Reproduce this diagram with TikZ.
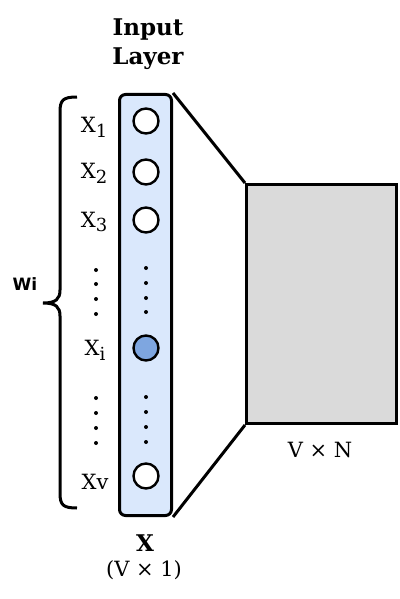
\documentclass[tikz,border=0pt]{standalone}
\usepackage{fontspec}
\setmainfont{DejaVu Serif}
\setsansfont{DejaVu Sans}
\usetikzlibrary{positioning}

\definecolor{colfill}{HTML}{DAE8FC}
\definecolor{hotfill}{HTML}{7EA6E0}
\definecolor{matfill}{HTML}{DADADA}

\tikzset{
  unit/.style={circle, draw, line width=1.2pt, fill=white, minimum size=12.5pt, inner sep=0pt},
  xlab/.style={font=\fontsize{10.5}{12}\selectfont, inner sep=0pt}
}
\newcommand{\xsub}[1]{X\raisebox{-0.45ex}{\fontsize{9}{10}\selectfont #1}}

\begin{document}
\begin{tikzpicture}[x=0.5pt,y=-0.5pt]

		\useasboundingbox (0,0) rectangle (400,599);

		% input column and weight matrix
		\node [draw, line width=1.5pt, fill=colfill, rounded corners=3pt, inner sep=0pt,
		       minimum width=26pt, minimum height=210.5pt] (col) at (145.5,305) {};
		\node [draw, line width=1.5pt, fill=matfill, inner sep=0pt,
		       minimum width=75pt, minimum height=119.5pt] (mat) at (321.5,304) {};

		\draw [line width=1.5pt] (col.north east) -- (mat.north west);
		\draw [line width=1.5pt] (col.south east) -- (mat.south west);

		\node [unit] (x1) at (146,121) {};
		\node [unit] (x2) at (146,172) {};
		\node [unit] (x3) at (146,220) {};
		\node [unit, fill=hotfill] (xi) at (146,348) {};
		\node [unit] (xv) at (146,476) {};

		\foreach \y in {268,283,298,312,397,412,427,442}
			\fill (146,\y) circle (1pt);
		\foreach \y in {270,284,299,314,398,413,428,443}
			\fill (96,\y) circle (1pt);

		\node [xlab] (l1) at (94,127) {\xsub{1}};
		\node [xlab] (l2) at (94,173) {\xsub{2}};
		\node [xlab] (l3) at (94,222) {\xsub{3}};
		\node [xlab] (li) at (95,350) {\xsub{i}};
		\node [xlab] (lv) at (95,482) {Xv};

		% brace
		\coordinate (BT) at (77,97);
		\coordinate (BM) at (43,303);
		\coordinate (BB) at (77,508);
		\draw [line width=1.5pt] (BT) .. controls (63,97) and (60,100) .. (60,112) -- (60,290)
			.. controls (60,299) and (56,303) .. (BM)
			.. controls (56,303) and (60,307) .. (60,316) -- (60,493)
			.. controls (60,505) and (63,508) .. (BB);
		\node [font=\sffamily\bfseries\fontsize{8.5}{10}\selectfont] (wi) at (25,284) {Wi};

		\node [font=\bfseries\fontsize{11.5}{14.5}\selectfont, align=center] (title) at (148,44) {Input\\Layer};
		\node [font=\bfseries\fontsize{11.5}{13}\selectfont, inner sep=0pt] (xname) at (145,543) {X};
		\node [font=\fontsize{10.5}{12}\selectfont, inner sep=0pt] (xdim) at (144,570) {(V × 1)};
		\node [font=\fontsize{10.5}{12}\selectfont, inner sep=0pt] (mdim) at (320,450) {V × N};

\end{tikzpicture}
\end{document}
